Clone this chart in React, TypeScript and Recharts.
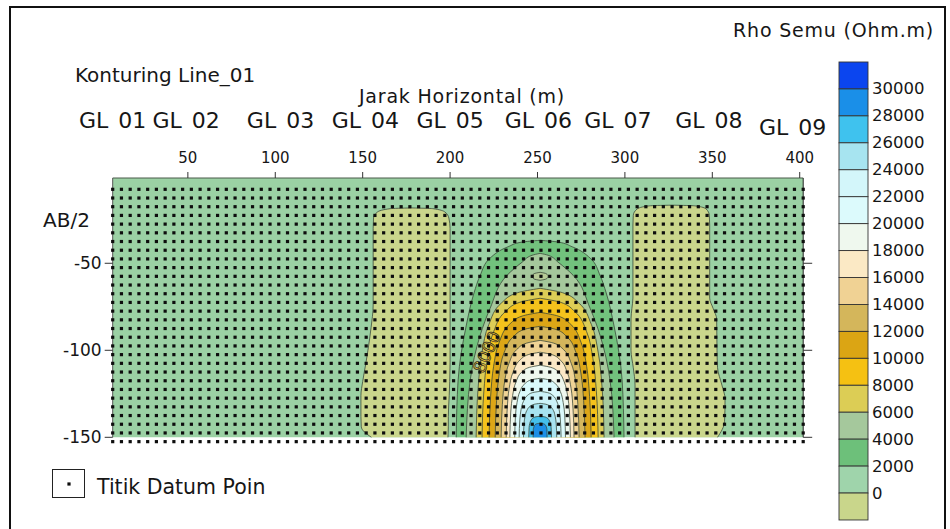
import { Area, ComposedChart, ReferenceDot, Scatter, ScatterChart, XAxis, YAxis } from "recharts"

const FONT = '"DejaVu Sans", Verdana, sans-serif'
const INK = "#161616"
const LINE = "#364436"

// axis ticks
const distanceTicks = [50, 100, 150, 200, 250, 300, 350, 400]
const depthTicks = [-50, -100, -150]

// sounding stations along the line
const stationNames = ["GL 01", "GL 02", "GL 03", "GL 04", "GL 05", "GL 06", "GL 07", "GL 08", "GL 09"]
const stationX = [7, 49, 103, 151.5, 200, 250.5, 296, 348, 396]

// datum point grid (m)
const datumX = [
  7, 12, 17, 22, 27, 32, 37, 42, 47, 52, 57, 62, 67, 72, 77, 82, 87, 92, 97, 102,
  107, 112, 117, 122, 127, 132, 137, 142, 147, 152, 157, 162, 167, 172, 177, 182, 187, 192, 197, 202,
  207, 212, 217, 222, 227, 232, 237, 242, 247, 252, 257, 262, 267, 272, 277, 282, 287, 292, 297, 302,
  307, 312, 317, 322, 327, 332, 337, 342, 347, 352, 357, 362, 367, 372, 377, 382, 387, 392, 397, 402,
]
const datumY = [
  -7.5, -12.5, -17.5, -22.5, -27.5, -32.5, -37.5, -42.5, -47.5, -52.5,
  -57.5, -62.5, -67.5, -72.5, -77.5, -82.5, -87.5, -92.5, -97.5, -102.5,
  -107.5, -112.5, -117.5, -122.5, -127.5, -132.5, -137.5, -142.5, -147.5, -152.5,
]

// contour outlines: [AB/2, left x, right x]
const baseZone = [[-1, 7, 402], [-150, 7, 402]]
const westColumn = [
  [-18.2, 178, 178], [-18.6, 166, 190], [-20.5, 158.5, 197], [-24, 156.2, 199.3], [-30, 156, 200],
  [-74, 156, 200], [-87, 154.8, 200], [-100, 153, 200], [-107, 151.9, 200], [-118, 150, 199.8],
  [-126, 149, 199.5], [-138, 149, 199], [-144, 149.2, 199], [-150, 155, 198.8],
]
const eastColumn = [
  [-16.6, 327, 327], [-17, 314, 340], [-18.8, 307, 346.5], [-22.4, 304.8, 348.3], [-28, 304.6, 348.5],
  [-70, 304.6, 348.5], [-76, 304, 350.5], [-82, 303.5, 352.5], [-100, 303.5, 352.7], [-110, 304.8, 353],
  [-120, 305.8, 355.5], [-128, 305.8, 357.3], [-141, 305.8, 357], [-150, 305.8, 353],
]
const rho2000 = [
  [-36.8, 251.5, 251.5], [-37.8, 241.2, 261.8], [-40.5, 233.2, 269.8], [-47, 222.9, 280.1], [-57, 217.2, 285.8],
  [-67, 213.7, 289.3], [-86, 209.2, 293.8], [-117, 204.6, 298.4], [-150, 203.5, 299.5],
]
const rho4000 = [
  [-44.3, 251.5, 251.5], [-45.4, 246.9, 256.1], [-49.4, 241.2, 261.8], [-56.9, 232.6, 270.4],
  [-75.9, 222.9, 280.1], [-91.4, 217.2, 285.8], [-117.2, 211.5, 291.5], [-150, 209.2, 293.8],
]
const rhoIsland = [[-55.2, 251.5, 251.5], [-56, 248, 255], [-57.5, 246.9, 256.1], [-59, 248, 255], [-59.8, 251.5, 251.5]]
const rho6000 = [
  [-64.4, 251.5, 251.5], [-66.9, 238.7, 264.3], [-72.7, 229.5, 273.5], [-85.1, 222.2, 280.8],
  [-101.6, 218.2, 284.8], [-122.2, 216, 287], [-150, 214.9, 288.1],
]
const rho8000 = [
  [-70.1, 251.5, 251.5], [-72.4, 239.9, 263.1], [-77.8, 231.6, 271.4], [-89.3, 224.9, 278.1],
  [-104.7, 221.3, 281.7], [-123.9, 219.3, 283.7], [-150, 218.3, 284.7],
]
const rho10000 = [
  [-78.2, 251.5, 251.5], [-80.3, 241.3, 261.7], [-85.1, 234, 269], [-95.4, 228.1, 274.9],
  [-109.2, 224.9, 278.1], [-126.4, 223.2, 279.8], [-150, 222.3, 280.7],
]
const rho12000 = [
  [-86.2, 251.5, 251.5], [-88, 242.5, 260.5], [-92.3, 236.1, 266.9], [-101.4, 230.9, 272.1],
  [-113.6, 228.1, 274.9], [-128.8, 226.6, 276.4], [-150, 225.8, 277.2],
]
const rho14000 = [
  [-94.3, 251.5, 251.5], [-95.9, 243.7, 259.3], [-99.6, 238.1, 264.9], [-107.5, 233.7, 269.3],
  [-118, 231.2, 271.8], [-131.2, 229.9, 273.1], [-150, 229.2, 273.8],
]
const rho16000 = [
  [-101.1, 251.5, 251.5], [-102.5, 244.7, 258.3], [-105.7, 239.9, 263.1], [-112.6, 236, 267],
  [-121.8, 233.8, 269.2], [-133.2, 232.7, 270.3], [-150, 232.1, 270.9],
]
const rho18000 = [
  [-108.6, 251.5, 251.5], [-109.8, 245.4, 257.6], [-112.4, 241.1, 261.9], [-118.2, 237.7, 265.3],
  [-125.9, 235.8, 267.2], [-135.5, 234.7, 268.3], [-150, 234.2, 268.8],
]
const rho20000 = [
  [-116.1, 251.5, 251.5], [-117, 246.4, 256.6], [-119.2, 242.8, 260.2], [-123.8, 239.9, 263.1],
  [-130, 238.3, 264.7], [-137.7, 237.4, 265.6], [-150, 237, 266],
]
const rho22000 = [
  [-123.6, 251.5, 251.5], [-124.3, 247.3, 255.7], [-125.9, 244.3, 258.7], [-129.5, 241.9, 261.1],
  [-134.1, 240.6, 262.4], [-140, 239.9, 263.1], [-150, 239.5, 263.5],
]
const rho24000 = [
  [-130.5, 251.5, 251.5], [-131, 248.2, 254.8], [-132.2, 245.8, 257.2], [-134.6, 243.9, 259.1],
  [-137.9, 242.9, 260.1], [-142.1, 242.3, 260.7], [-150, 242, 261],
]
const rho26000 = [
  [-137.9, 251.5, 251.5], [-138.2, 249.2, 253.8], [-138.8, 247.6, 255.4], [-140.2, 246.3, 256.7],
  [-142, 245.6, 257.4], [-144.3, 245.2, 257.8], [-150, 245, 258],
]
const rho28000 = [
  [-141.9, 251.5, 251.5], [-142.1, 250.1, 252.9], [-142.4, 249.1, 253.9], [-143.2, 248.3, 254.7],
  [-144.2, 247.9, 255.1], [-145.5, 247.6, 255.4], [-150, 247.5, 255.5],
]

// colour scale (top to bottom)
const scaleLabels = ["30000", "28000", "26000", "24000", "22000", "20000", "18000", "16000", "14000", "12000", "10000", "8000", "6000", "4000", "2000", "0"]
const scaleColors = [
  "#0b45ef", "#1a8fe8", "#3fc2ee", "#a7e4f0", "#d3f6fa", "#dcfafc", "#eff8ee", "#fbe9c5", "#f0d294",
  "#d4b65b", "#dba514", "#f5c112", "#dccd55", "#a5c89c", "#6dc07a", "#9fd4ab", "#c9d68b",
]

const zoneOutlines: [string, number[][]][] = [
  ["base", baseZone], ["west", westColumn], ["east", eastColumn],
  ["r2000", rho2000], ["r4000", rho4000], ["island", rhoIsland], ["r6000", rho6000], ["r8000", rho8000],
  ["r10000", rho10000], ["r12000", rho12000], ["r14000", rho14000], ["r16000", rho16000], ["r18000", rho18000],
  ["r20000", rho20000], ["r22000", rho22000], ["r24000", rho24000], ["r26000", rho26000], ["r28000", rho28000],
]
const zoneFill: Record<string, string> = {
  base: "#9bd1a4", west: "#cad68c", east: "#cad68c", r2000: "#72c27d", r4000: "#a5c89c", island: "#b6cb97",
  r6000: "#dccd56", r8000: "#f4c21c", r10000: "#dca617", r12000: "#d4b65c", r14000: "#efd395",
  r16000: "#fbe8c6", r18000: "#eff8ee", r20000: "#dbfafc", r22000: "#cbf2f8", r24000: "#a7e3f0",
  r26000: "#45bfea", r28000: "#1d8fe6",
}

const depths = Array.from(new Set(zoneOutlines.flatMap(([, rows]) => rows.map((r) => r[0])))).sort((a, b) => b - a)
const sectionTable = depths.map((depth) => {
  const row: Record<string, any> = { depth }
  zoneOutlines.forEach(([key, rows]) => {
    const hit = rows.find((r) => r[0] === depth)
    row[key] = hit ? [hit[1], hit[2]] : [null, null]
  })
  return row
})
const datumPoints = datumX.flatMap((x) => datumY.map((y) => ({ x, y })))

function StationTick(props: any) {
  const { x, y, payload } = props
  const i = stationX.indexOf(payload.value)
  return (
    <text x={x} y={y - (i === 8 ? 43 : 50)} textAnchor="middle" fontSize={22} fontFamily={FONT} fill={INK} wordSpacing={3}>
      {stationNames[i]}
    </text>
  )
}

function ContourTag(props: any) {
  const vb = props.viewBox || {}
  const cx = (vb.x ?? 0) + (vb.width ?? 0) / 2
  const cy = (vb.y ?? 0) + (vb.height ?? 0) / 2
  return (
    <text x={cx} y={cy} transform={`rotate(-66 ${cx} ${cy})`} textAnchor="middle" dominantBaseline="central"
      fontSize={17} fontFamily={FONT} fill="#f0c43a" stroke="#1e1e1e" strokeWidth={0.7}>
      8000
    </text>
  )
}

function DatumDot(props: any) {
  return <rect x={props.cx - 1.6} y={props.cy - 1.6} width={3.2} height={3.2} fill="#0d0d0d" />
}

const BOX_TOP = 62
const BOX_H = 26.94

export default function App() {
  return (
    <div style={{ position: "absolute", left: 0, top: 0, width: 950, height: 529, overflow: "hidden", background: "#fff" }}>
      <div style={{ position: "absolute", left: 9, top: 6, width: 937, height: 560, border: "2px solid #111", boxSizing: "border-box" }} />

      <div style={{ position: "absolute", left: 0, top: 0 }}>
        <ComposedChart width={950} height={529} layout="vertical" data={sectionTable}
          margin={{ top: 138, left: 52.7, right: 126.8, bottom: 91.7 }}>
          <XAxis type="number" orientation="top" domain={[7, 402]} ticks={distanceTicks} interval={0} height={40}
            tickSize={6} tickMargin={9} tick={{ fontSize: 15, fill: INK, fontFamily: FONT }}
            stroke="#4a5a4a" tickLine={{ stroke: "#333" }} />
          <YAxis type="number" dataKey="depth" domain={[-150, -1]} ticks={depthTicks} interval={0} width={60} reversed
            tickSize={8} tickMargin={3} tick={{ fontSize: 17, fill: INK, fontFamily: FONT }}
            stroke="#555" tickLine={{ stroke: "#333" }} />
          <YAxis yAxisId="r" orientation="right" type="number" dataKey="depth" domain={[-150, -1]} ticks={depthTicks} reversed
            interval={0} width={20} tickSize={9} tick={() => <g />} stroke="#222" tickLine={{ stroke: "#333" }} />
          {zoneOutlines.map(([key]) => (
            <Area key={key} dataKey={key} type="monotone" fill={zoneFill[key]} fillOpacity={1}
              stroke={key === "base" ? "none" : LINE} strokeWidth={0.9} strokeOpacity={0.85}
              connectNulls dot={false} activeDot={false} isAnimationActive={false} />
          ))}
          <ReferenceDot x={221} y={-101} r={1} fill="none" stroke="none" label={<ContourTag />} />
        </ComposedChart>
      </div>

      <div style={{ position: "absolute", left: 0, top: 0 }}>
        <ScatterChart width={950} height={529} margin={{ top: 138, left: 112.7, right: 146.8, bottom: 83 }}>
          <XAxis type="number" dataKey="x" orientation="top" domain={[7, 402]} ticks={stationX} interval={0}
            height={40} tickSize={0} tickMargin={0} axisLine={false} tickLine={false} tick={<StationTick />} />
          <YAxis type="number" dataKey="y" domain={[-155, -1]} hide />
          <Scatter data={datumPoints} shape={<DatumDot />} isAnimationActive={false} />
        </ScatterChart>
      </div>

      <svg width={950} height={529} style={{ position: "absolute", left: 0, top: 0 }} fontFamily={FONT}>
        <text x={75} y={82} fontSize={20} fill={INK}>Konturing Line_01</text>
        <text x={462} y={103} fontSize={19} letterSpacing={0.8} textAnchor="middle" fill={INK}>
          Jarak Horizontal (m)
        </text>
        <text x={43} y={227} fontSize={20} fill={INK}>AB/2</text>
        <text x={934} y={37} fontSize={19} letterSpacing={0.8} textAnchor="end" fill={INK}>Rho Semu (Ohm.m)</text>

        {scaleColors.map((c, i) => (
          <rect key={c + i} x={839} y={BOX_TOP + i * BOX_H} width={29} height={BOX_H} fill={c} stroke="#333" strokeWidth={0.9} />
        ))}
        {scaleLabels.map((t, i) => (
          <text key={t} x={872} y={BOX_TOP + (i + 1) * BOX_H} dominantBaseline="central" fontSize={16.5} fill={INK}>
            {t}
          </text>
        ))}

        <rect x={52.5} y={469.5} width={32} height={28} fill="#fff" stroke="#222" strokeWidth={1} />
        <rect x={67.4} y={482.4} width={3.2} height={3.2} fill="#0d0d0d" />
        <text x={97} y={494} fontSize={20.5} fill={INK}>Titik Datum Poin</text>
      </svg>
    </div>
  )
}
